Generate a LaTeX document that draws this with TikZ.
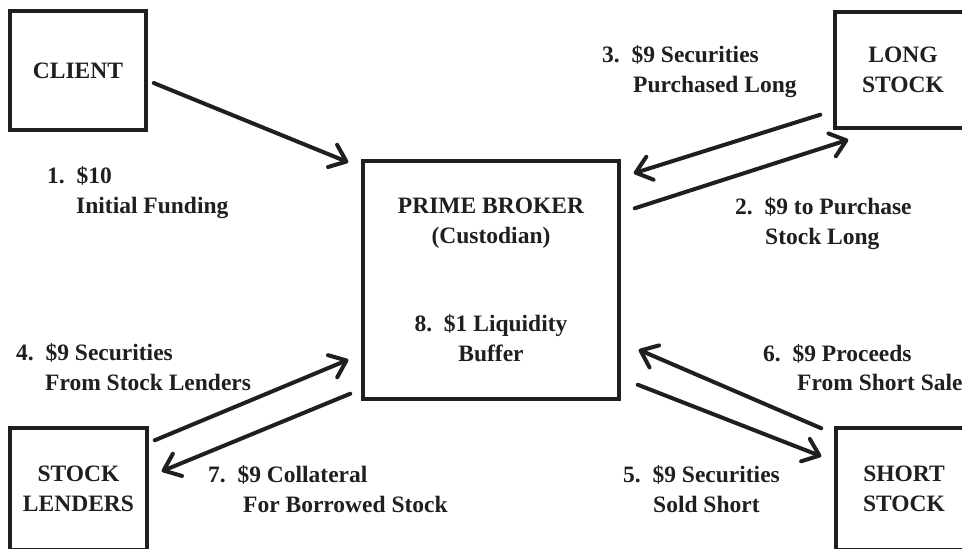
\documentclass[tikz,border=0pt]{standalone}
\usepackage{fontspec}
\setmainfont{Liberation Serif}
\usetikzlibrary{arrows.meta,calc}
\begin{document}
\begin{tikzpicture}[x=1pt,y=-1pt,
  every node/.style={font=\fontsize{23.5}{29.5}\selectfont\bfseries, text=black!88},
  box/.style={draw=black!88, line width=3.4pt, rectangle, align=center, inner sep=0pt},
  lab/.style={anchor=base west, inner sep=0pt},
  flow/.style={draw=black!88, line width=4pt, line cap=round,
    -{Straight Barb[length=15pt,width=24pt,round]}}]
\useasboundingbox (0,0) rectangle (962,549);
\clip (0,0) rectangle (962,549);
\fill[white] (0,0) rectangle (962,549);
% boxes
\node[box, minimum width=136pt, minimum height=119pt] (client) at (78,70.5) {CLIENT};
\node[box, minimum width=136pt, minimum height=116pt] (long) at (903,70) {LONG\\STOCK};
\node[box, minimum width=256pt, minimum height=238pt] (pb) at (491,280)
  {PRIME BROKER\\(Custodian)\\[59pt]8.\ \ \$1 Liquidity\\Buffer};
\node[box, minimum width=137pt, minimum height=122pt] (lenders) at (78.5,489) {STOCK\\LENDERS};
\node[box, minimum width=136pt, minimum height=122pt] (short) at (904,489) {SHORT\\STOCK};
% labels
\node[lab] (l1a) at (47,183) {1.\ \ \$10};
\node[lab] (l1b) at (76,213) {Initial Funding};
\node[lab] (l2a) at (735,214) {2.\ \ \$9 to Purchase};
\node[lab] (l2b) at (765,244) {Stock Long};
\node[lab] (l3a) at (602,62) {3.\ \ \$9 Securities};
\node[lab] (l3b) at (633,92) {Purchased Long};
\node[lab] (l4a) at (16,360) {4.\ \ \$9 Securities};
\node[lab] (l4b) at (45,390) {From Stock Lenders};
\node[lab] (l5a) at (623,482) {5.\ \ \$9 Securities};
\node[lab] (l5b) at (653,512) {Sold Short};
\node[lab] (l6a) at (763,361) {6.\ \ \$9 Proceeds};
\node[lab] (l6b) at (797,390) {From Short Sale};
\node[lab] (l7a) at (208,482) {7.\ \ \$9 Collateral};
\node[lab] (l7b) at (243,512) {For Borrowed Stock};
% connectors
\draw[flow] ($(client.east)+(6,12.5)$) -- ($(pb.north west)+(-13,3)$);
\draw[flow] ($(pb.north east)+(14,49)$) -- ($(long.south west)+(15,10)$);
\draw[flow] ($(long.south west)+(-13,-15)$) -- ($(pb.north east)+(13,14)$);
\draw[flow] ($(lenders.north east)+(6,14)$) -- ($(pb.south west)+(-13,-41)$);
\draw[flow] ($(pb.south west)+(-11,-7)$) -- ($(lenders.north east)+(13,45)$);
\draw[flow] ($(short.north west)+(-13,2)$) -- ($(pb.south east)+(18,-51)$);
\draw[flow] ($(pb.south east)+(17,-16)$) -- ($(short.north west)+(-13,30)$);
\end{tikzpicture}
\end{document}
